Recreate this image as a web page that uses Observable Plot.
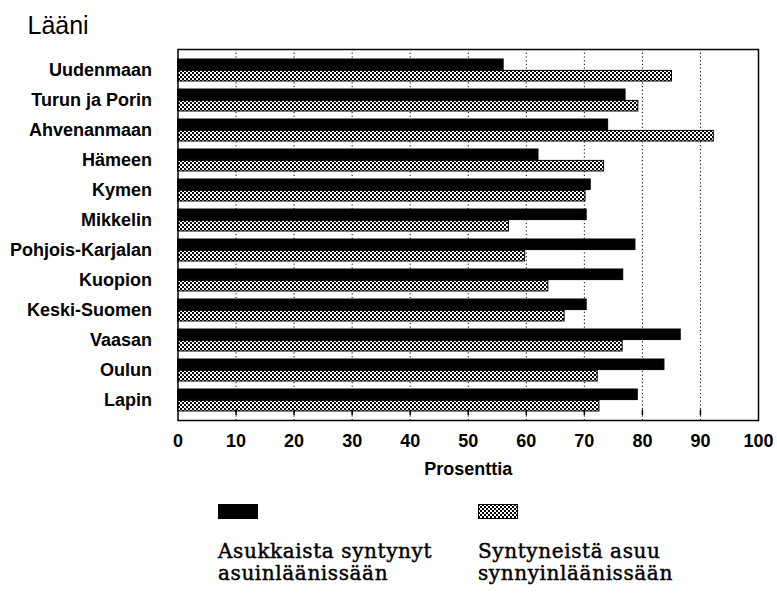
<!DOCTYPE html>
<html>
<head>
<meta charset="utf-8">
<script src="https://cdn.jsdelivr.net/npm/d3@7"></script>
<script src="https://cdn.jsdelivr.net/npm/@observablehq/plot@0.6"></script>
<style>
  body { margin: 0; background: #fff; }
  #wrap { position: relative; width: 777px; height: 600px; }
  .leg-box { position: absolute; width: 40px; height: 15px; box-sizing: border-box; }
  .leg-text { position: absolute; font-family: "DejaVu Serif", "Liberation Serif", serif; font-size: 20px; line-height: 20px; letter-spacing: 0.6px; color: #000; -webkit-text-stroke: 0.45px black; white-space: nowrap; }
</style>
</head>
<body>
<div id="wrap"></div>
<script>
const regions = ["Uudenmaan","Turun ja Porin","Ahvenanmaan","Hämeen","Kymen","Mikkelin","Pohjois-Karjalan","Kuopion","Keski-Suomen","Vaasan","Oulun","Lapin"];
const asukkaista = [56.1, 77.1, 74.1, 62.1, 71.1, 70.4, 78.8, 76.7, 70.4, 86.6, 83.8, 79.2];
const syntyneista = [85.1, 79.3, 92.3, 73.4, 70.2, 57.0, 59.8, 63.8, 66.6, 76.6, 72.3, 72.6];
const xTicks = [0,10,20,30,40,50,60,70,80,90,100];
const gridTicks = [10,20,30,40,50,60,70,80,90];
const seriesNames = [["Asukkaista syntynyt", "asuinläänissään"], ["Syntyneistä asuu", "synnyinläänissään"]];
const titleText = "Lääni";
const xLabel = "Prosenttia";

const dataA = regions.map((r, i) => ({region: r, value: asukkaista[i]}));
const dataS = regions.map((r, i) => ({region: r, value: syntyneista[i]}));

const bold = {fontFamily: "Liberation Sans, Arial, sans-serif", fontWeight: "bold"};

const chart = Plot.plot({
  width: 777,
  height: 600,
  marginLeft: 177.5,
  marginRight: 19,
  marginTop: 49,
  marginBottom: 180,
  style: {fontFamily: "Liberation Sans, Arial, sans-serif", background: "white", color: "black"},
  x: {domain: [0, 100]},
  y: {domain: regions, padding: 0},
  marks: [
    Plot.gridX(gridTicks, {stroke: "black", strokeOpacity: 1, strokeWidth: 1, strokeDasharray: "1.2,2.5"}),
    Plot.barX(dataA, {x: "value", y: "region", fill: "black", stroke: "black", strokeWidth: 1, insetTop: 4, insetBottom: 15.4}),
    Plot.barX(dataS, {x: "value", y: "region", fill: "url(#hatch)", stroke: "black", strokeWidth: 1, insetTop: 15.4, insetBottom: 4}),
    Plot.tickX(xTicks.slice(1, -1), {x: d => d, y: () => regions[regions.length - 1], stroke: "black", strokeWidth: 1.5, insetTop: 24.5}),
    Plot.axisX(xTicks, {tickSize: 0, tickPadding: 14, fontSize: 18, ...bold, label: xLabel, labelAnchor: "center", labelArrow: "none", labelOffset: 54}),
    Plot.axisY({tickSize: 0, tickPadding: 26, fontSize: 18, ...bold, label: null}),
    Plot.text([titleText], {frameAnchor: "top-left", dx: -150.5, dy: -33, text: d => d, fontSize: 25, fontFamily: "Liberation Sans, Arial, sans-serif", textAnchor: "start", fill: "black"}),
    Plot.frame({stroke: "black", strokeWidth: 1.5})
  ]
});

const patternDef = (id) => `<pattern id="${id}" width="4" height="4" patternUnits="userSpaceOnUse">
  <rect width="4" height="4" fill="white"/>
  <rect width="2" height="2" fill="#000"/>
  <rect x="2" y="2" width="2" height="2" fill="#000"/>
</pattern>`;

const svgNS = "http://www.w3.org/2000/svg";
const defs = document.createElementNS(svgNS, "defs");
defs.innerHTML = patternDef("hatch");
chart.insertBefore(defs, chart.firstChild);

const wrap = document.getElementById("wrap");
wrap.appendChild(chart);
chart.style.position = "absolute";
chart.style.left = "0";
chart.style.top = "0";

// legend
const legendItems = [
  {x: 218, fill: "black", label: seriesNames[0]},
  {x: 478, fill: "hatch", label: seriesNames[1]}
];
legendItems.forEach((it, i) => {
  if (it.fill === "black") {
    const b = document.createElement("div");
    b.className = "leg-box";
    b.style.left = it.x + "px";
    b.style.top = "504px";
    b.style.background = "black";
    wrap.appendChild(b);
  } else {
    const s = document.createElementNS(svgNS, "svg");
    s.setAttribute("width", 40); s.setAttribute("height", 15);
    s.style.position = "absolute"; s.style.left = it.x + "px"; s.style.top = "504px";
    s.innerHTML = `<defs>${patternDef("hatch2")}</defs><rect x="0.5" y="0.5" width="39" height="14" fill="url(#hatch2)" stroke="black"/>`;
    wrap.appendChild(s);
  }
  it.label.forEach((line, j) => {
    const t = document.createElement("div");
    t.className = "leg-text";
    t.style.left = it.x + "px";
    t.style.top = (541 + j * 22) + "px";
    t.textContent = line;
    wrap.appendChild(t);
  });
});
</script>
</body>
</html>
